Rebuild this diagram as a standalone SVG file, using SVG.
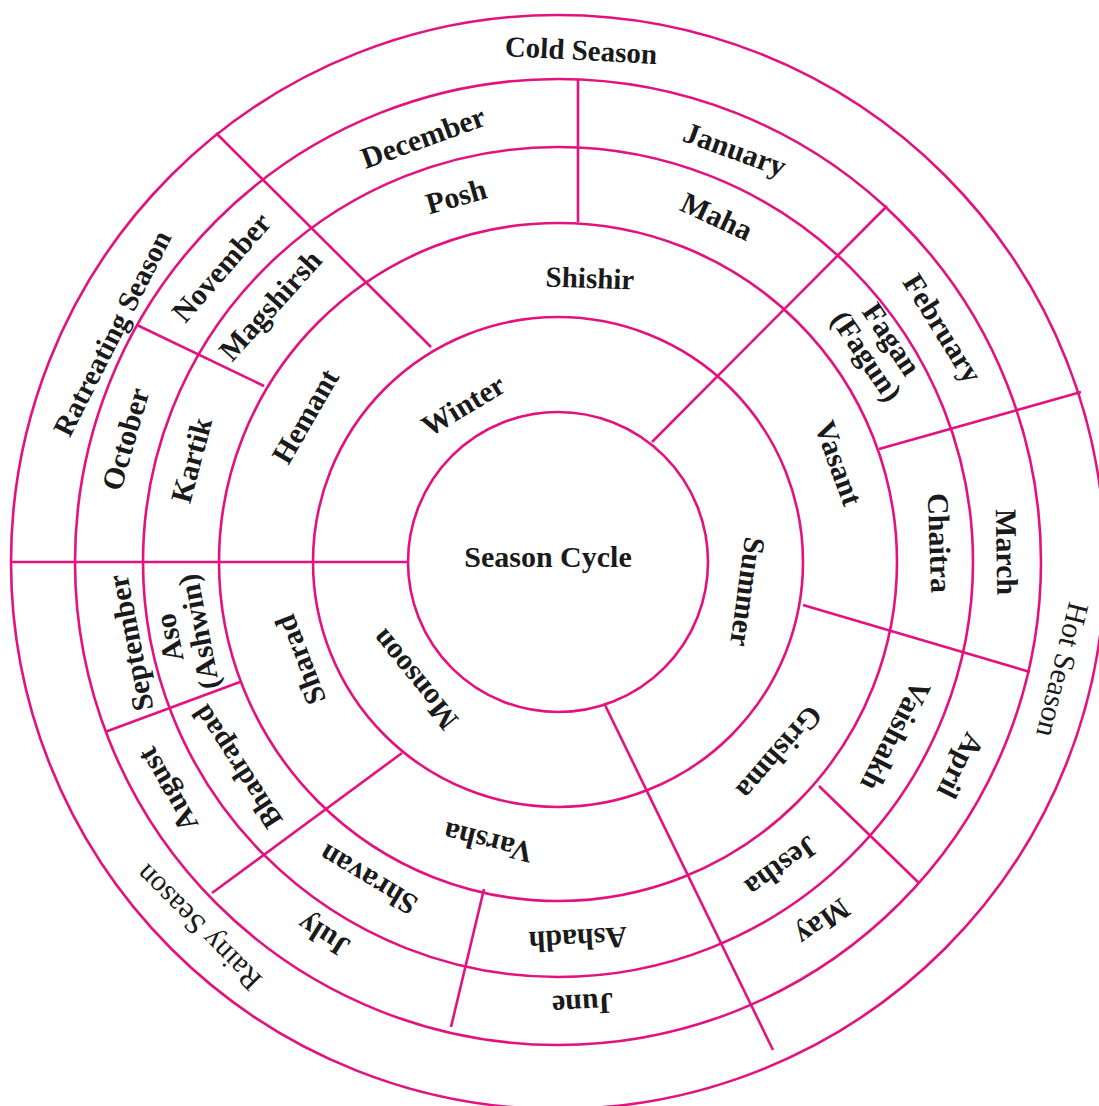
<svg xmlns="http://www.w3.org/2000/svg" width="1099" height="1106" viewBox="0 0 1099 1106">
<style>
.ring{fill:none;stroke:#E2127F;stroke-width:2.6}
.div{stroke:#E2127F;stroke-width:2.6;fill:none}
text{font-family:"Liberation Serif","Times New Roman",serif;font-weight:bold;font-size:30px;fill:#1a1a1a;text-anchor:middle;dominant-baseline:central}
.reg{font-weight:normal}
</style>
<rect width="1099" height="1106" fill="#ffffff"/>
<g id="rings">
<circle class="ring" cx="558" cy="562" r="547"/>
<circle class="ring" cx="558" cy="562" r="483"/>
<circle class="ring" cx="558" cy="562" r="415"/>
<circle class="ring" cx="558" cy="562" r="339"/>
<circle class="ring" cx="558" cy="562" r="245"/>
<circle class="ring" cx="558" cy="562" r="150"/>
</g>
<g id="connectors">
<line class="div" x1="11" y1="562" x2="408" y2="562"/>
<line class="div" x1="652" y1="442" x2="887" y2="206"/>
<line class="div" x1="605" y1="705" x2="773" y2="1050"/>
<line class="div" x1="578" y1="80" x2="578" y2="222"/>
<line class="div" x1="216" y1="133" x2="431" y2="347"/>
<line class="div" x1="137" y1="325" x2="264" y2="386"/>
<line class="div" x1="105" y1="732" x2="240" y2="682"/>
<line class="div" x1="212" y1="893" x2="402" y2="753"/>
<line class="div" x1="451" y1="1027" x2="484" y2="889"/>
<line class="div" x1="819" y1="786" x2="919" y2="883"/>
<line class="div" x1="803" y1="605" x2="1030" y2="672"/>
<line class="div" x1="879" y1="449" x2="1081" y2="392"/>
</g>
<g id="center"><text x="548" y="556">Season Cycle</text></g>
<g id="ring1">
<g id="winter"><text transform="translate(463,405) rotate(-31)">Winter</text></g>
<g id="summer"><text transform="translate(748,592) rotate(98)">Summer</text></g>
<g id="monsoon"><text transform="translate(414,680) rotate(231)">Monsoon</text></g>
</g>
<g id="ring2">
<g id="shishir"><text transform="translate(590,278) rotate(2)" style="font-size:29px">Shishir</text></g>
<g id="vasant"><text transform="translate(839,463) rotate(70)">Vasant</text></g>
<g id="grishma"><text transform="translate(780,753) rotate(131)">Grishma</text></g>
<g id="varsha"><text transform="translate(488,843) rotate(194)">Varsha</text></g>
<g id="sharad"><text transform="translate(300,660) rotate(249)">Sharad</text></g>
<g id="hemant"><text transform="translate(305,416) rotate(-60)">Hemant</text></g>
</g>
<g id="ring3">
<g id="posh"><text transform="translate(456,196) rotate(-16)">Posh</text></g>
<g id="maha"><text transform="translate(717,216) rotate(25)">Maha</text></g>
<g id="fagan"><text transform="translate(880,347) rotate(56)"><tspan x="0" y="-15">Fagan</tspan><tspan x="0" y="15">(Fagun)</tspan></text></g>
<g id="chaitra"><text transform="translate(940,543) rotate(88)">Chaitra</text></g>
<g id="vaishakh"><text transform="translate(896,736) rotate(117)">Vaishakh</text></g>
<g id="jestha"><text transform="translate(782,867) rotate(144)">Jestha</text></g>
<g id="ashadh"><text transform="translate(578,940) rotate(177)">Ashadh</text></g>
<g id="shravan"><text transform="translate(368,880) rotate(211)">Shravan</text></g>
<g id="bhadrapad"><text transform="translate(237,767) rotate(237)" style="font-size:29px">Bhadrapad</text></g>
<g id="aso"><text transform="translate(183,635) rotate(259)"><tspan x="0" y="-15">Aso</tspan><tspan x="0" y="15">(Ashwin)</tspan></text></g>
<g id="kartik"><text transform="translate(191,460) rotate(-75)">Kartik</text></g>
<g id="magshirsh"><text transform="translate(270,305) rotate(-48)">Magshirsh</text></g>
</g>
<g id="ring4">
<g id="december"><text transform="translate(423,137) rotate(-20)">December</text></g>
<g id="january"><text transform="translate(735,149) rotate(20)">January</text></g>
<g id="february"><text transform="translate(943,328) rotate(58)">February</text></g>
<g id="march"><text transform="translate(1007,552) rotate(89)">March</text></g>
<g id="april"><text transform="translate(961,766) rotate(117)">April</text></g>
<g id="may"><text transform="translate(823,923) rotate(144)">May</text></g>
<g id="june"><text transform="translate(583,1005) rotate(177)">June</text></g>
<g id="july"><text transform="translate(323,936) rotate(212)">July</text></g>
<g id="august"><text transform="translate(167,790) rotate(240)">August</text></g>
<g id="september"><text transform="translate(130,643) rotate(259)">September</text></g>
<g id="october"><text transform="translate(125,439) rotate(-74)">October</text></g>
<g id="november"><text transform="translate(221,267) rotate(-49)">November</text></g>
</g>
<g id="ring5">
<g id="cold"><text transform="translate(581,50) rotate(3)" style="font-size:29px">Cold Season</text></g>
<g id="hot"><text class="reg" transform="translate(1063,670) rotate(104)">Hot Season</text></g>
<g id="rainy"><text class="reg" transform="translate(198,928) rotate(225)">Rainy Season</text></g>
<g id="retreating"><text transform="translate(112,333) rotate(-63)" style="font-size:29px">Ratreating Season</text></g>
</g>
</svg>
